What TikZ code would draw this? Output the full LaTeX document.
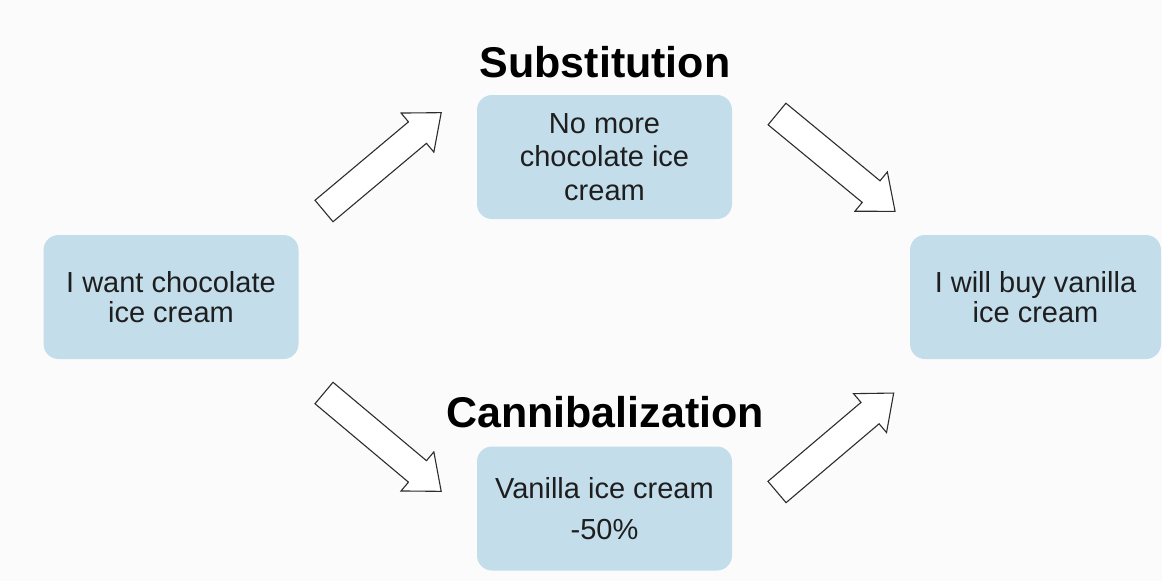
\documentclass[tikz,border=0pt]{standalone}
\usepackage{fontspec}
\setmainfont{Liberation Sans}
\definecolor{boxblue}{RGB}{196,221,235}
\definecolor{pagebg}{RGB}{251,251,251}
\definecolor{inkgray}{RGB}{45,45,45}
\definecolor{textgray}{RGB}{30,30,30}
\begin{document}
\begin{tikzpicture}[x=1pt,y=-1pt,
  card/.style={rectangle, rounded corners=15pt, fill=boxblue,
    minimum width=255pt, minimum height=124pt, inner sep=0pt,
    align=center, text=textgray},
  cardfont/.style={font=\fontsize{29}{#1}\selectfont},
  heading/.style={font=\bfseries\fontsize{43}{43}\selectfont,
    anchor=base, inner sep=0pt, text=black},
  fatline/.style={draw=inkgray, line width=1.1pt, fill=white, line join=miter},
  blockarrow/.pic={\path[fatline] (0,-14) -- (122,-14) -- (122,-25.5)
    -- (153,0) -- (122,25.5) -- (122,14) -- (0,14) -- cycle;}
]
% page
\fill[pagebg] (0,0) rectangle (1162,581);
\useasboundingbox (0,0) rectangle (1162,581);

% the four boxes
\node[card, cardfont=30] (want) at (171,297) {I want chocolate\\ice cream};
\node[card, cardfont=33.5] (nomore) at (604.5,157) {No more\\chocolate ice\\cream};
\node[card, cardfont=41] (vanilla) at (604.5,508.5) {Vanilla ice cream\\-50\%};
\node[card, cardfont=30, minimum width=251pt] (buy) at (1035.5,297) {I will buy vanilla\\ice cream};

% headings
\node[heading] (subst) at (605,77) {Substitution};
\node[heading] (canni) at (605,427) {Cannibalization};

% block arrows: tail points
\coordinate (a1) at (324,211);
\coordinate (a2) at (777,114);
\coordinate (a3) at (324,393);
\coordinate (a4) at (777,492);
\pic[rotate=40] at (a1) {blockarrow};
\pic[rotate=-39.5] at (a2) {blockarrow};
\pic[rotate=-40] at (a3) {blockarrow};
\pic[rotate=40.3] at (a4) {blockarrow};
\end{tikzpicture}
\end{document}
